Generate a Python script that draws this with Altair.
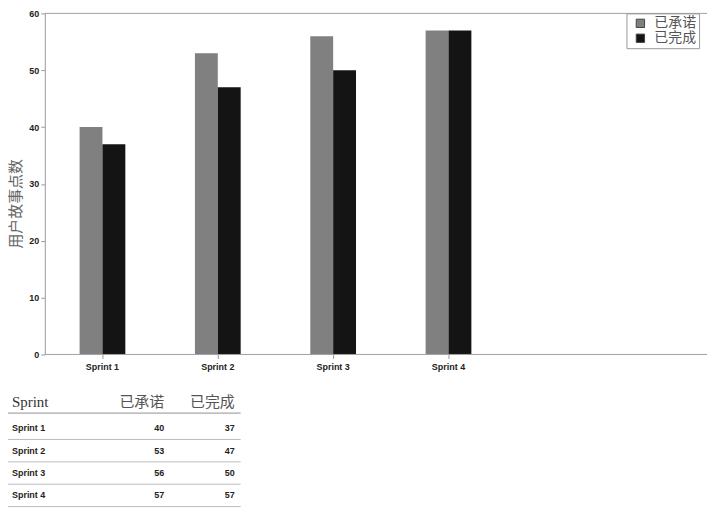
import altair as alt
import pandas as pd

# ---- data ----
sprints = ["Sprint 1", "Sprint 2", "Sprint 3", "Sprint 4"]
committed = [40, 53, 56, 57]
completed = [37, 47, 50, 57]
series_names = ["已承诺", "已完成"]
series_colors = ["#808080", "#141414"]
y_ticks = [0, 10, 20, 30, 40, 50, 60]
y_title = "用户故事点数"
table_header = ["Sprint", "已承诺", "已完成"]

bars_df = pd.DataFrame({
    "sprint": sprints * 2,
    "series": [series_names[0]] * len(sprints) + [series_names[1]] * len(sprints),
    "value": committed + completed,
})

rows = []
for s, c, d in zip(sprints, committed, completed):
    rows.append({"row": s, "col": table_header[0], "text": s})
    rows.append({"row": s, "col": table_header[1], "text": str(c)})
    rows.append({"row": s, "col": table_header[2], "text": str(d)})
rows_df = pd.DataFrame(rows)
header_df = pd.DataFrame({"row": ["h"] * 3, "col": table_header, "text": table_header})
rule_rows_df = pd.DataFrame({"row": sprints})
border_df = pd.DataFrame({"v": [y_ticks[0], y_ticks[-1]]})

W, H = 666, 343
TOP = 4
SANS = "Liberation Sans, Arial, Noto Sans CJK SC"
SERIF = "Liberation Serif, Times New Roman, Noto Sans CJK SC"

PI = 70 / 116
x_scale = alt.Scale(domain=sprints, range=[0, 464], paddingInner=PI, paddingOuter=PI / 2)
y_scale = alt.Scale(domain=[0, 60], nice=False)

bars = alt.Chart(bars_df).mark_bar().encode(
    x=alt.X("sprint:N", scale=x_scale, title=None,
            axis=alt.Axis(domain=False, labelAngle=0, tickSize=4, tickColor="#999",
                          labelPadding=4, labelFont=SANS, labelFontSize=9,
                          labelFontWeight="bold", labelColor="#222")),
    xOffset=alt.XOffset("series:N", scale=alt.Scale(domain=series_names,
                                                     paddingInner=0, paddingOuter=0)),
    y=alt.Y("value:Q", scale=y_scale, title=y_title,
            axis=alt.Axis(values=y_ticks, grid=False, domainColor="#999", tickColor="#999",
                          tickSize=4, labelPadding=2, labelFont=SANS, labelFontSize=9,
                          labelFontWeight="bold", labelColor="#222",
                          titleFont=SERIF, titleFontSize=15, titleFontWeight="normal",
                          titleColor="#666", titleX=-29, titleY=191,
                          titleBaseline="middle", titleAlign="center")),
    color=alt.Color("series:N", scale=alt.Scale(domain=series_names, range=series_colors),
                    legend=alt.Legend(title=None, orient="none", legendX=585, legendY=0,
                                      strokeColor="#999", padding=3, symbolType="square",
                                      symbolSize=70, symbolStrokeColor="#444",
                                      symbolStrokeWidth=1, symbolOffset=4,
                                      labelFont=SERIF, labelFontSize=14, labelColor="#555",
                                      labelOffset=7, rowPadding=1,
                                      labelExpr="datum.label + '  '")),
)

borders = alt.Chart(border_df).mark_rule(color="#a0a0a0", strokeWidth=1).encode(
    y=alt.Y("v:Q", scale=y_scale, axis=None),
    x=alt.value(0),
    x2=alt.value("width"),
)

name_x = alt.Scale(type="point", domain=table_header[:1], range=[-33, -33], padding=0)
val_x = alt.Scale(type="point", domain=table_header[1:], range=[120, 191], padding=0)
row_y = alt.Scale(domain=sprints, range=[406, 496], paddingInner=0, paddingOuter=0)
head_y = alt.Scale(domain=["h"], range=[380, 402], paddingInner=0, paddingOuter=0)

head_left = alt.Chart(header_df).transform_filter(
    alt.datum.col == table_header[0]
).mark_text(align="left", baseline="middle", font=SERIF, fontSize=15, color="#333").encode(
    x=alt.X("col:N", scale=name_x, axis=None),
    y=alt.Y("row:N", scale=head_y, axis=None),
    text="text:N",
)
head_right = alt.Chart(header_df).transform_filter(
    alt.datum.col != table_header[0]
).mark_text(align="right", baseline="middle", font=SERIF, fontSize=15, color="#555").encode(
    x=alt.X("col:N", scale=val_x, axis=None),
    y=alt.Y("row:N", scale=head_y, axis=None),
    text="text:N",
)
head_rule = alt.Chart(header_df.head(1)).mark_rule(color="#a8a8a8", strokeWidth=1.2).encode(
    y=alt.Y("row:N", scale=head_y, bandPosition=1, axis=None),
    x=alt.value(-40),
    x2=alt.value(197),
)
cell_left = alt.Chart(rows_df).transform_filter(
    alt.datum.col == table_header[0]
).mark_text(align="left", baseline="middle", font=SANS, fontSize=9, fontWeight="bold",
            color="#222").encode(
    x=alt.X("col:N", scale=name_x, axis=None),
    y=alt.Y("row:N", scale=row_y, axis=None),
    text="text:N",
)
cell_right = alt.Chart(rows_df).transform_filter(
    alt.datum.col != table_header[0]
).mark_text(align="right", baseline="middle", font=SANS, fontSize=9, fontWeight="bold",
            color="#222").encode(
    x=alt.X("col:N", scale=val_x, axis=None),
    y=alt.Y("row:N", scale=row_y, axis=None),
    text="text:N",
)
row_rules = alt.Chart(rule_rows_df).mark_rule(color="#bbbbbb", strokeWidth=1).encode(
    y=alt.Y("row:N", scale=row_y, bandPosition=1, axis=None),
    x=alt.value(-40),
    x2=alt.value(197),
)

chart = alt.layer(
    bars, borders, head_left, head_right, head_rule, cell_left, cell_right, row_rules
).resolve_scale(
    x="independent", y="independent"
).properties(
    width=W, height=H,
    autosize=alt.AutoSizeParams(type="none"),
    padding={"left": 37, "top": TOP, "right": 5, "bottom": 155},
).configure_view(stroke=None)

chart.save("out.html", embed_options={"renderer": "svg", "actions": False})
